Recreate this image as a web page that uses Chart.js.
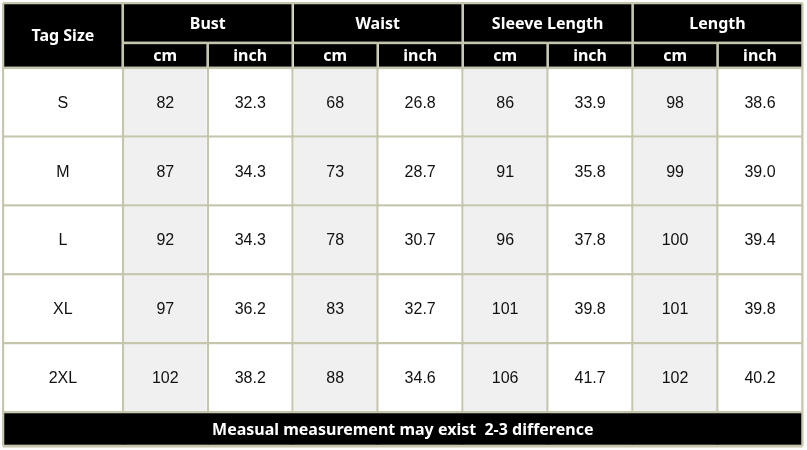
<!DOCTYPE html>
<html>
<head>
<meta charset="utf-8">
<script src="https://cdn.jsdelivr.net/npm/chart.js@4"></script>
<style>
  body { margin: 0; background: #fdfdfd; }
  #wrap { width: 807px; height: 450px; }
</style>
</head>
<body>
<div id="wrap"><canvas id="chart"></canvas></div>
<script>
// table data
const tagSizes = ['S', 'M', 'L', 'XL', '2XL'];
const measures = ['Bust', 'Waist', 'Sleeve Length', 'Length'];
const units = ['cm', 'inch'];
const bustCm = [82, 87, 92, 97, 102];
const bustInch = [32.3, 34.3, 34.3, 36.2, 38.2];
const waistCm = [68, 73, 78, 83, 88];
const waistInch = [26.8, 28.7, 30.7, 32.7, 34.6];
const sleeveCm = [86, 91, 96, 101, 106];
const sleeveInch = [33.9, 35.8, 37.8, 39.8, 41.7];
const lengthCm = [98, 99, 100, 101, 102];
const lengthInch = [38.6, 39.0, 39.4, 39.8, 40.2];
const cornerLabel = 'Tag Size';
const footnote = 'Measual measurement may exist  2-3 difference';

// layout weights (column / row widths, in "cell" units)
const tagColWeight = 1.41;
const hdrRowWeights = [0.58, 0.363];
const footRowWeight = 0.494;

const columns = [
  [bustCm, bustInch], [waistCm, waistInch],
  [sleeveCm, sleeveInch], [lengthCm, lengthInch]
];

// column edges on x scale
const colEdges = [0, tagColWeight];
for (let i = 0; i < measures.length * units.length; i++) colEdges.push(colEdges[colEdges.length - 1] + 1);
// row edges on y scale
const rowEdges = [0, hdrRowWeights[0], hdrRowWeights[0] + hdrRowWeights[1]];
tagSizes.forEach(() => rowEdges.push(rowEdges[rowEdges.length - 1] + 1));
rowEdges.push(rowEdges[rowEdges.length - 1] + footRowWeight);

const lineColor = '#c6c6ad';
const lineW = 2.5;
const bodyFont = '16px "Liberation Sans", Arial, sans-serif';
const headFont = 'bold 16px "Noto Sans", sans-serif';

// draws the cells through the chart scales
const tablePlugin = {
  id: 'sizeTable',
  afterDatasetsDraw(chart) {
    const ctx = chart.ctx;
    const xs = chart.scales.x, ys = chart.scales.y;
    const px = v => xs.getPixelForValue(v);
    const py = v => ys.getPixelForValue(v);
    const h = lineW / 2;

    function cell(c0, c1, r0, r1, fill, text, color, font) {
      const x0 = px(colEdges[c0]) + h, x1 = px(colEdges[c1]) - h;
      const y0 = py(rowEdges[r0]) + h, y1 = py(rowEdges[r1]) - h;
      ctx.fillStyle = fill;
      ctx.fillRect(x0, y0, x1 - x0, y1 - y0);
      ctx.fillStyle = color;
      ctx.font = font;
      ctx.textAlign = 'center';
      ctx.textBaseline = 'middle';
      ctx.fillText(text, (x0 + x1) / 2, (y0 + y1) / 2 + 1);
    }

    ctx.save();
    // header
    cell(0, 1, 0, 2, '#000', cornerLabel, '#fff', headFont);
    measures.forEach((m, i) => {
      cell(1 + i * 2, 3 + i * 2, 0, 1, '#000', m, '#fff', headFont);
      units.forEach((u, j) => cell(1 + i * 2 + j, 2 + i * 2 + j, 1, 2, '#000', u, '#fff', headFont));
    });
    // body
    tagSizes.forEach((t, r) => {
      cell(0, 1, r + 2, r + 3, '#ffffff', t, '#111', bodyFont);
      columns.forEach((pair, i) => {
        cell(1 + i * 2, 2 + i * 2, r + 2, r + 3, '#f0f0f0', String(pair[0][r]), '#111', bodyFont);
        cell(2 + i * 2, 3 + i * 2, r + 2, r + 3, '#ffffff', pair[1][r].toFixed(1), '#111', bodyFont);
      });
    });
    // footer
    cell(0, colEdges.length - 1, rowEdges.length - 2, rowEdges.length - 1, '#000', footnote, '#fff', headFont);
    ctx.restore();
  }
};

const gridOpts = { color: lineColor, lineWidth: lineW, drawTicks: false, tickLength: 0, offset: false };

const ctx = document.getElementById('chart').getContext('2d');
const myChart = new Chart(ctx, {
  type: 'scatter',
  data: { datasets: [] },
  options: {
    responsive: true,
    maintainAspectRatio: false,
    animation: false,
    events: [],
    layout: { padding: { left: 3, top: 3, right: 4.5, bottom: 4 } },
    plugins: { legend: { display: false }, tooltip: { enabled: false } },
    scales: {
      x: {
        type: 'linear',
        offset: false,
        min: 0,
        max: colEdges[colEdges.length - 1],
        afterBuildTicks: s => { s.ticks = colEdges.map(v => ({ value: v })); },
        ticks: { display: false },
        border: { display: false },
        grid: gridOpts
      },
      y: {
        type: 'linear',
        offset: false,
        reverse: true,
        min: 0,
        max: rowEdges[rowEdges.length - 1],
        afterBuildTicks: s => { s.ticks = rowEdges.map(v => ({ value: v })); },
        ticks: { display: false },
        border: { display: false },
        grid: gridOpts
      }
    }
  },
  plugins: [tablePlugin]
});
</script>
</body>
</html>
